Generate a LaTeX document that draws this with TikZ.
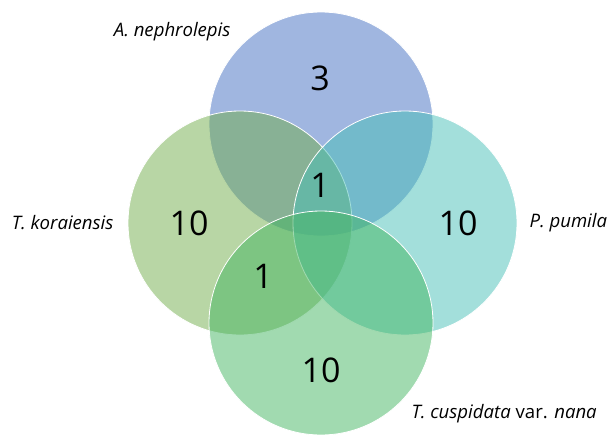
\documentclass[tikz,border=0pt]{standalone}
\usepackage{fontspec}
\setmainfont{Open Sans}
\usetikzlibrary{positioning}

\definecolor{nepblue}{RGB}{65,109,193}
\definecolor{korgreen}{RGB}{113,173,75}
\definecolor{pumteal}{RGB}{71,191,183}
\definecolor{cusgreen}{RGB}{67,181,97}

\tikzset{
  setcircle/.style = {circle, minimum size=224pt, draw=white, line width=0.8pt, fill opacity=0.5},
  countlabel/.style = {font=\fontsize{34}{34}\selectfont},
  namelabel/.style = {font=\fontsize{18.6}{18.6}\selectfont\itshape}
}

\begin{document}
\begin{tikzpicture}[x=1pt, y=-1pt]
\useasboundingbox (0,0) rectangle (608,434);
% the four sets
\node[setcircle, fill=nepblue] (nep) at (321,124) {};
\node[setcircle, fill=korgreen] (kor) at (240,223) {};
\node[setcircle, fill=pumteal] (pum) at (405,223) {};
\node[setcircle, fill=cusgreen] (cus) at (321,323) {};
% counts
\node[countlabel] (nepOnly) at (320,78) {3};
\node[countlabel] (korOnly) at (189,223) {10};
\node[countlabel] (pumOnly) at (458,223) {10};
\node[countlabel] (cusOnly) at (321,370) {10};
\node[countlabel] (allMid) at (320,185) {1};
\node[countlabel] (korCus) at (263,276) {1};
% set names
\node[namelabel, anchor=east] (nepName) at (234,32) {A. nephrolepis};
\node[namelabel, anchor=east] (korName) at (117,223) {T. koraiensis};
\node[namelabel, anchor=west] (pumName) at (526,223) {P. pumila};
\node[namelabel, anchor=west] (cusName) at (408,414) {T. cuspidata \upshape var. \itshape nana};
\end{tikzpicture}
\end{document}
